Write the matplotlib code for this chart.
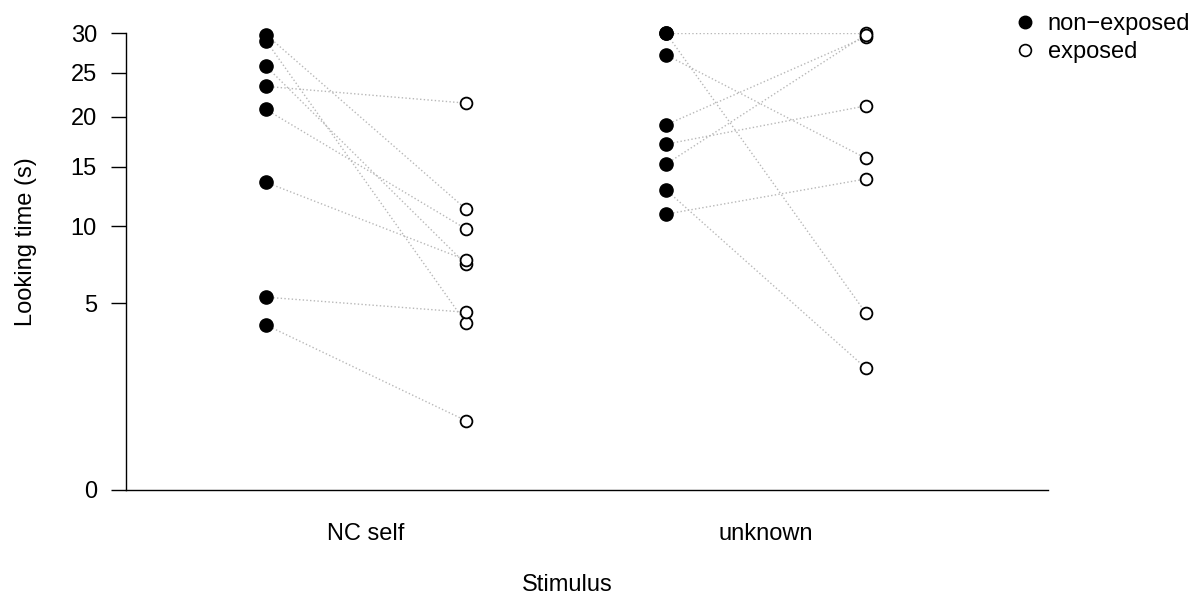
import numpy as np
import matplotlib
matplotlib.use('Agg')
import matplotlib.pyplot as plt
from matplotlib.lines import Line2D

plt.rcParams['font.family'] = ['Liberation Sans', 'DejaVu Sans']

# Stimulus groups and paired looking times (s): non-exposed -> exposed
stimuli = ['NC self', 'unknown']
nc_nonexposed = [29.8, 29.0, 25.8, 23.4, 20.8, 13.6, 5.34, 3.91]
nc_exposed = [11.33, 4.0, 7.32, 21.5, 9.79, 7.6, 4.54, 0.69]
unk_nonexposed = [30.0, 30.0, 27.2, 19.15, 17.18, 15.25, 12.94, 10.93]
unk_exposed = [30.0, 4.49, 15.8, 29.5, 21.2, 29.8, 2.13, 13.9]
yticks = [0, 5, 10, 15, 20, 25, 30]

# sqrt scale for the y axis
def fwd(v):
    return np.sqrt(np.clip(v, 0, None))

def inv(v):
    return np.asarray(v) ** 2

fig = plt.figure(figsize=(12.03, 5.94), dpi=100)
ax = fig.add_axes([126 / 1203, 1 - 490 / 594, 922 / 1203, 457 / 594])
ax.set_yscale('function', functions=(fwd, inv))

offset = 0.25
groups = [(nc_nonexposed, nc_exposed), (unk_nonexposed, unk_exposed)]
for i, (pre, post) in enumerate(groups):
    x0 = i + 1 - offset
    x1 = i + 1 + offset
    for a, b in zip(pre, post):
        ax.plot([x0, x1], [a, b], linestyle=':', color='#b8b8b8', lw=1, zorder=1)
    ax.plot([x0] * len(pre), pre, 'o', color='black', ms=9.5, clip_on=False, zorder=3)
    ax.plot([x1] * len(post), post, 'o', mfc='white', mec='black', mew=1.3, ms=8.5,
            clip_on=False, zorder=3)

ax.set_xlim(0.4, 2.705)
ax.set_ylim(0, 30)
ax.set_yticks(yticks)
ax.set_yticklabels([str(t) for t in yticks])
ax.set_xticks([1, 2])
ax.set_xticklabels(stimuli)
ax.tick_params(axis='y', length=11, width=1, pad=10, labelsize=17)
ax.tick_params(axis='x', length=0, pad=24, labelsize=17)
ax.minorticks_off()

for s in ['top', 'right']:
    ax.spines[s].set_visible(False)
ax.spines['left'].set_linewidth(1)
ax.spines['bottom'].set_linewidth(1)

ax.set_xlabel('Stimulus', fontsize=17)
ax.xaxis.set_label_coords(0.479, -0.183)
ax.set_ylabel('Looking time (s)', fontsize=17)
ax.yaxis.set_label_coords(-0.097, 0.543)

handles = [
    Line2D([], [], marker='o', ls='', color='black', ms=9),
    Line2D([], [], marker='o', ls='', mfc='white', mec='black', mew=1.2, ms=8.5),
]
fig.legend(handles, ['non\u2212exposed', 'exposed'], loc='upper left',
           bbox_to_anchor=(1013 / 1203, 1 - 13 / 594), frameon=False, fontsize=17,
           handletextpad=0.47, labelspacing=0.25, borderpad=0, borderaxespad=0,
           handlelength=1.0)

fig.savefig('out.png', dpi=100)
